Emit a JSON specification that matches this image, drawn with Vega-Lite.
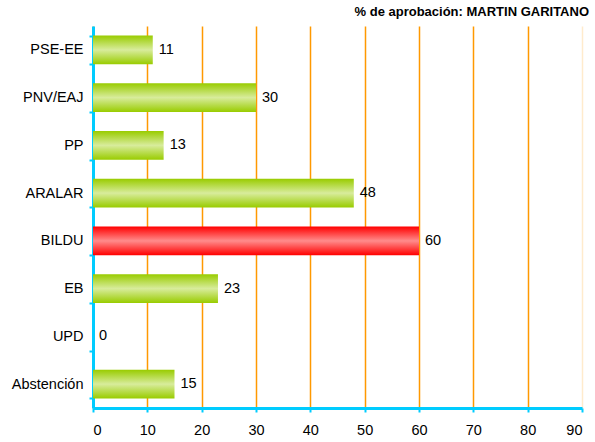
{
  "$schema": "https://vega.github.io/schema/vega-lite/v6.json",
  "autosize": "none",
  "width": 489,
  "height": 382,
  "padding": {"left": 93, "top": 26, "right": 13, "bottom": 34},
  "background": "white",
  "config": {"view": {"stroke": null}, "font": "Liberation Sans"},
  "title": {"text": "% de aprobación: MARTIN GARITANO", "anchor": "end", "fontSize": 13, "fontWeight": "bold", "font": "Liberation Sans", "color": "black", "offset": 0, "baseline": "bottom", "dx": 6, "dy": 14, "limit": 1000},
  "data": {"values": [
    {"partido": "PSE-EE", "valor": 11},
    {"partido": "PNV/EAJ", "valor": 30},
    {"partido": "PP", "valor": 13},
    {"partido": "ARALAR", "valor": 48},
    {"partido": "BILDU", "valor": 60},
    {"partido": "EB", "valor": 23},
    {"partido": "UPD", "valor": 0},
    {"partido": "Abstención", "valor": 15}
  ]},
  "encoding": {
    "y": {"field": "partido", "type": "nominal",
      "sort": ["PSE-EE", "PNV/EAJ", "PP", "ARALAR", "BILDU", "EB", "UPD", "Abstención"],
      "scale": {"paddingInner": 0.4, "paddingOuter": 0.2},
      "axis": {"title": null, "domainColor": "#00CCFF", "domainWidth": 3, "tickColor": "#00CCFF", "tickWidth": 2, "tickSize": 4, "tickBand": "extent", "labelFontSize": 14.5, "labelFont": "Liberation Sans", "labelColor": "black", "labelPadding": 6, "grid": false}},
    "x": {"field": "valor", "type": "quantitative",
      "scale": {"domain": [0, 90], "nice": false},
      "axis": {"title": null, "values": [0,10,20,30,40,50,60,70,80,90], "domainColor": "#00CCFF", "domainWidth": 3, "tickColor": "#00CCFF", "tickWidth": 2, "tickSize": 4, "labelFontSize": 14.5, "labelFont": "Liberation Sans", "labelColor": "black", "labelPadding": 11, "grid": true, "gridColor": "#FF9900", "gridWidth": 1.5, "gridOpacity": {"condition": {"test": "datum.value == 90", "value": 0.2}, "value": 1}}}
  },
  "layer": [
    {"transform": [{"filter": "datum.partido != 'BILDU'"}],
     "mark": {"type": "bar", "color": {"gradient": "linear", "x1": 0, "y1": 0, "x2": 0, "y2": 1, "stops": [{"offset": 0, "color": "#99CC00"}, {"offset": 0.5, "color": "#D8EC9C"}, {"offset": 1, "color": "#99CC00"}]}}},
    {"transform": [{"filter": "datum.partido == 'BILDU'"}],
     "mark": {"type": "bar", "color": {"gradient": "linear", "x1": 0, "y1": 0, "x2": 0, "y2": 1, "stops": [{"offset": 0, "color": "#FF0000"}, {"offset": 0.5, "color": "#FF8C8C"}, {"offset": 1, "color": "#FF0000"}]}}},
    {"mark": {"type": "text", "align": "left", "baseline": "middle", "dx": 6, "fontSize": 14.5, "font": "Liberation Sans", "color": "black"},
     "encoding": {"text": {"field": "valor", "type": "quantitative"}}}
  ]
}
